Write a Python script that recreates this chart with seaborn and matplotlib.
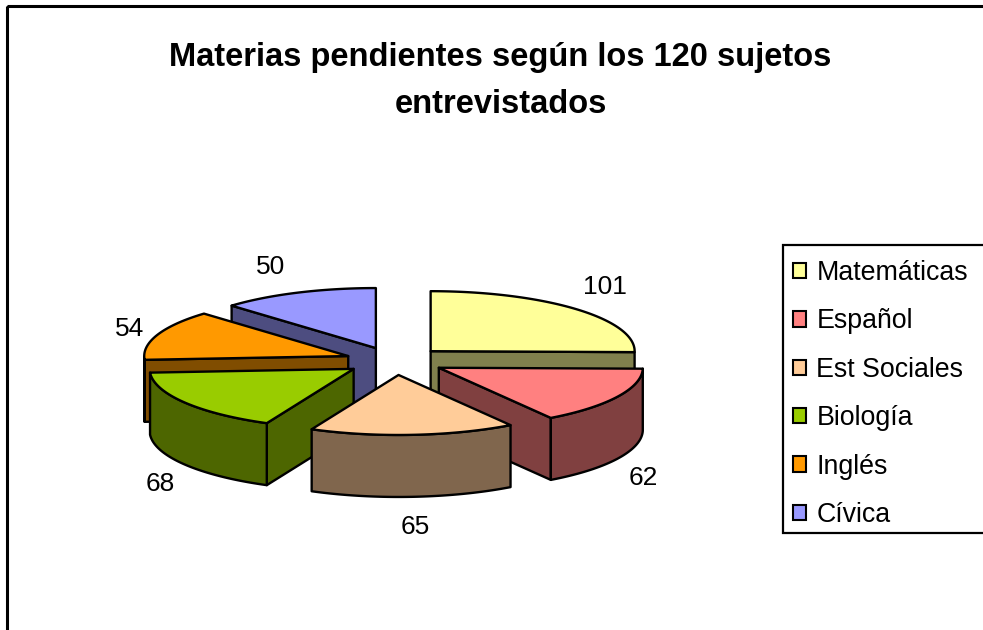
import numpy as np
import seaborn as sns
import matplotlib
matplotlib.use("Agg")
import matplotlib.pyplot as plt
from matplotlib.patches import Patch, Polygon, Rectangle

materias = ["Matemáticas", "Español", "Est Sociales", "Biología", "Inglés", "Cívica"]
sujetos = [101, 62, 65, 68, 54, 50]
colores = ["#FFFF99", "#FF8080", "#FFCC99", "#99CC00", "#FF9900", "#9999FF"]
titulo = "Materias pendientes según los 120 sujetos\nentrevistados"

sns.set_theme(style="white")
plt.rcParams["font.family"] = ["Liberation Sans", "DejaVu Sans"]

# pie geometry, in pixels of the figure
cx, cy = 395, 361
rx, ry = 204, 60
ex, ey = 50, 14
depth = 62
lab_x, lab_y = 285, 105
nudge = {"Matemáticas": (7, 0), "Español": (-1, 4), "Est Sociales": (0, -1), "Biología": (1, 2),
         "Inglés": (1, 5), "Cívica": (-15, 3)}

fig, ax = plt.subplots(figsize=(9.83, 6.30), dpi=100)
fig.subplots_adjust(0, 0, 1, 1)
ax.set_xlim(0, 983)
ax.set_ylim(630, 0)
ax.axis("off")

# outer frame runs off the right and bottom of the picture
ax.add_patch(Rectangle((7, 6), 1000, 660, fill=False, ec="black", lw=2.2))

total = sum(sujetos)
fin = np.cumsum(sujetos) / total * 2 * np.pi
ini = np.r_[0, fin[:-1]]


def punto(ox, oy, a):
    return ox + rx * np.sin(a), oy - ry * np.cos(a)


def sombra(c):
    return tuple(v * 0.5 for v in matplotlib.colors.to_rgb(c))


def pared(ox, oy, a, oscuro, estilo):
    p = punto(ox, oy, a)
    ax.add_patch(Polygon([(ox, oy), p, (p[0], p[1] + depth), (ox, oy + depth)], fc=oscuro, **estilo))


def rebanada(i, z):
    media = (ini[i] + fin[i]) / 2
    ox = cx + ex * np.sin(media)
    oy = cy - ey * np.cos(media)
    th = np.linspace(ini[i], fin[i], 80)
    borde = np.column_stack(punto(ox, oy, th))
    estilo = dict(ec="black", lw=1.7, joinstyle="round", zorder=z)
    oscuro = sombra(colores[i])
    # only the walls that face the viewer
    if np.sin(ini[i]) < -1e-6:
        pared(ox, oy, ini[i], oscuro, estilo)
    if np.sin(fin[i]) > 1e-6:
        pared(ox, oy, fin[i], oscuro, estilo)
    frente = th[np.cos(th) <= 0]
    if len(frente) > 1:
        arco = np.column_stack(punto(ox, oy, frente))
        bajo = arco[::-1] + [0, depth]
        ax.add_patch(Polygon(np.vstack([arco, bajo]), fc=oscuro, **estilo))
    ax.add_patch(Polygon(np.vstack([[ox, oy], borde]), fc=colores[i], **estilo))


# back slices first
for z, i in enumerate([5, 0, 4, 3, 1, 2]):
    rebanada(i, z + 2)

for i, n in enumerate(materias):
    media = (ini[i] + fin[i]) / 2
    x = cx + lab_x * np.sin(media) + nudge[n][0]
    y = cy - lab_y * np.cos(media) + (depth if np.cos(media) < 0 else 0) + nudge[n][1]
    ax.text(x, y, str(sujetos[i]), ha="center", va="center", fontsize=19, color="black", zorder=20)

ax.text(500.5, 81, titulo, ha="center", va="center", fontsize=23.5, fontweight="bold",
        color="black", linespacing=1.66)

# legend box
ax.add_patch(Rectangle((783, 245), 300, 288, fc="white", ec="black", lw=1.6, zorder=21))
marcas = [Patch(fc=c, ec="black", lw=1.5, label=n) for c, n in zip(colores, materias)]
ax.legend(handles=marcas, loc="center left", bbox_to_anchor=(793 / 983, 1 - 394 / 630), frameon=False,
          fontsize=19.3, labelspacing=0.835, handlelength=0.5, handleheight=0.5, handletextpad=0.37,
          borderpad=0, borderaxespad=0, labelcolor="black").set_zorder(22)

fig.savefig("out.png", dpi=100)
